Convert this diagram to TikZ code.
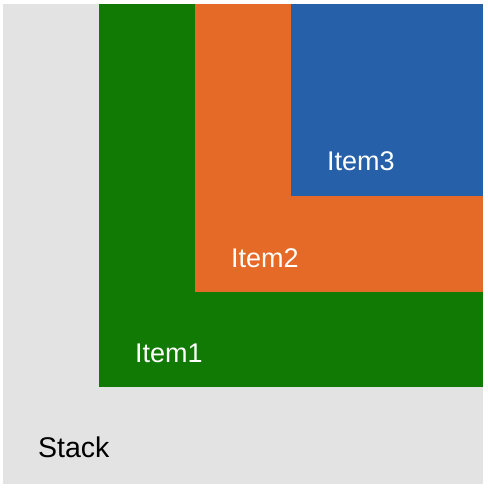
\documentclass[tikz,border=0pt]{standalone}
\usepackage{fontspec}
\setmainfont{Liberation Sans}
\definecolor{stackgray}{HTML}{E3E3E3}
\definecolor{itemgreen}{HTML}{107A05}
\definecolor{itemorange}{HTML}{E56A28}
\definecolor{itemblue}{HTML}{2660A9}
\begin{document}
\begin{tikzpicture}[x=1pt,y=-1pt,
  lbl/.style={anchor=base west,inner sep=0pt,font=\fontsize{27}{31}\selectfont},
  wlbl/.style={lbl,text=white}]
\useasboundingbox (0,0) rectangle (488,488);
\fill[stackgray] (3,4) rectangle (483,484);
\fill[itemgreen] (99,4) rectangle (483,387);
\fill[itemorange] (195,4) rectangle (483,292);
\fill[itemblue] (291,4) rectangle (483,196);
\node[lbl,font=\fontsize{28.5}{32}\selectfont] (stack) at (38,457) {Stack};
\node[wlbl] (item1) at (135,362) {Item1};
\node[wlbl] (item2) at (231,267) {Item2};
\node[wlbl] (item3) at (327,170) {Item3};
\end{tikzpicture}
\end{document}
